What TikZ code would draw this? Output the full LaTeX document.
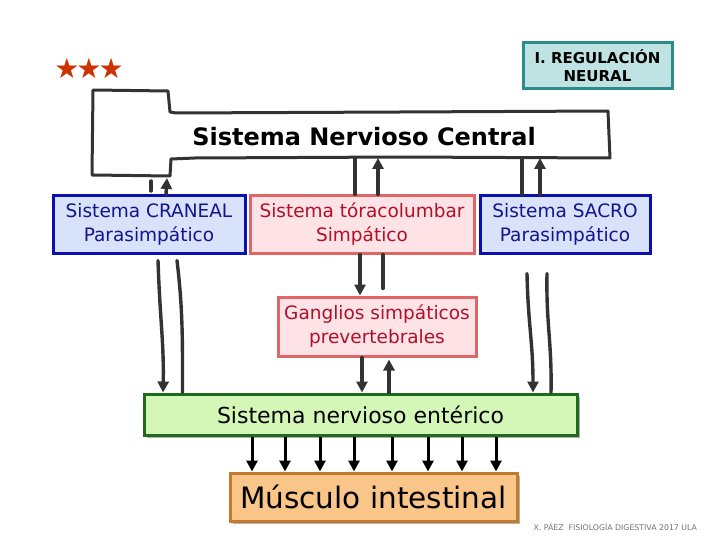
\documentclass[tikz,border=0pt]{standalone}
\usepackage{fontspec}
\setmainfont{DejaVu Sans}
\newfontfamily\starfont{DejaVu Sans}
\usetikzlibrary{arrows.meta,calc}
\definecolor{starred}{HTML}{CC3300}
\definecolor{tealfill}{HTML}{BFE3E3}
\definecolor{tealline}{HTML}{2E8B8B}
\definecolor{bluefill}{HTML}{D8E2FA}
\definecolor{blueline}{HTML}{0A10B0}
\definecolor{bluetext}{HTML}{14148C}
\definecolor{pinkfill}{HTML}{FDE2E6}
\definecolor{pinkline}{HTML}{E06666}
\definecolor{pinktext}{HTML}{B0102A}
\definecolor{greenfill}{HTML}{D4F7B8}
\definecolor{greenline}{HTML}{1E6B1E}
\definecolor{orangefill}{HTML}{F9C589}
\definecolor{orangeline}{HTML}{C47A2C}
\definecolor{pen}{HTML}{333333}
\tikzset{
  boxbase/.style={draw, line width=3pt, inner sep=0pt, align=center},
  bluebox/.style={boxbase, draw=blueline, fill=bluefill, text=bluetext, font=\fontsize{18.5}{24}\selectfont},
  pinkbox/.style={boxbase, draw=pinkline, fill=pinkfill, text=pinktext, font=\fontsize{18.5}{24}\selectfont},
  penline/.style={draw=pen, line width=3.4pt, line cap=round},
  penarrow/.style={penline, -{Triangle[length=11pt,width=11pt]}},
  blackarrow/.style={draw=black, line width=3pt, -{Triangle[length=11pt,width=11pt]}},
}
\begin{document}
\begin{tikzpicture}[x=1pt,y=-1pt]
\useasboundingbox (0,0) rectangle (720,540);
\fill[white] (0,0) rectangle (720,540);

% stars and title
\node[text=starred, font=\starfont\fontsize{28}{28}\selectfont, inner sep=0pt] (stars) at (89,68) {★\kern-3pt★\kern-3pt★};
\node[boxbase, draw=tealline, fill=tealfill, line width=3pt, minimum width=149pt, minimum height=46pt,
      font=\fontsize{15}{18}\selectfont\bfseries] (title) at (597.5,66) {I. REGULACIÓN\\NEURAL};

% CNS outline (hand drawn)
\draw[draw=pen, line width=3pt, line join=round]
  (176,113) -- (170,112) -- (168,91) -- (93,90) -- (92,175) -- (170,176) -- (171,159)
  -- (195,158) -- (400,157) -- (610,158) -- (609,135) -- (608,111) -- (400,112) -- (176,113);
\node[font=\fontsize{24}{24}\selectfont\bfseries] (cns) at (364,137) {Sistema Nervioso Central};
\coordinate (cnsL) at (160,176);
\coordinate (cnsM) at (366,158);
\coordinate (cnsR) at (531,158);

% boxes
\node[bluebox, minimum width=192pt, minimum height=57pt] (cran) at (149,224.5) {Sistema CRANEAL\\Parasimpático};
\node[pinkbox, minimum width=224pt, minimum height=57pt] (tor) at (362,224.5) {Sistema tóracolumbar\\Simpático};
\node[bluebox, minimum width=170pt, minimum height=57pt] (sac) at (565,224.5) {Sistema SACRO\\Parasimpático};
\node[pinkbox, minimum width=198pt, minimum height=59pt] (gang) at (377,326.5) {Ganglios simpáticos\\prevertebrales};

% enteric and muscle with shadows
\fill[black!30] (147,397) rectangle (580,438);
\node[boxbase, draw=greenline, fill=greenfill, minimum width=433pt, minimum height=41pt,
      font=\fontsize{22}{22}\selectfont] (ent) at (360.5,414.5) {Sistema nervioso entérico};
\fill[black!30] (233,476) rectangle (520,524);
\node[boxbase, draw=orangeline, fill=orangefill, minimum width=287pt, minimum height=48pt,
      font=\fontsize{29.5}{29.5}\selectfont] (mus) at (373.5,497) {Músculo intestinal};

% CNS <-> first row
\draw[penline] ([xshift=-9pt,yshift=-5pt]cnsL) -- ([xshift=-9pt,yshift=-15pt]cnsL);
\draw[penarrow] ([xshift=17pt]cran.north) -- ([xshift=7pt,yshift=-2pt]cnsL);
\draw[penline] ([xshift=-11pt]cnsM) -- ([xshift=-7pt]tor.north);
\draw[penarrow] ([xshift=16pt]tor.north) -- ([xshift=12pt]cnsM);
\draw[penline] ([xshift=-9pt]cnsR) -- ([xshift=-43pt]sac.north);
\draw[penarrow] ([xshift=-25pt]sac.north) -- ([xshift=9pt]cnsR);

% craneal -> enteric
\draw[penarrow] ([xshift=9pt,yshift=-6pt]cran.south) .. controls +(2,60) and +(1,-50) .. ([xshift=-197.5pt]ent.north);
\draw[penline] ([xshift=28pt,yshift=-6pt]cran.south) .. controls +(6,50) and +(0,-50) .. ([xshift=-178pt]ent.north);

% toracolumbar -> ganglios
\draw[penarrow] ([xshift=-2pt]tor.south) -- ([xshift=-17pt]gang.north);
\draw[penline] ([xshift=21pt]tor.south) -- ([xshift=6pt,yshift=7pt]gang.north);

% ganglios <-> enteric
\draw[penarrow] ([xshift=-15pt]gang.south) -- ([xshift=1.5pt]ent.north);
\draw[penarrow] ([xshift=28.5pt]ent.north) -- ([xshift=12pt,yshift=-2pt]gang.south);

% sacro -> enteric
\draw[penarrow] ([xshift=-38pt,yshift=-19pt]sac.south) .. controls +(1,50) and +(0,-50) .. ([xshift=172.5pt]ent.north);
\draw[penline] ([xshift=-18pt,yshift=-19pt]sac.south) .. controls +(-1,50) and +(1,-50) .. ([xshift=190.5pt]ent.north);

% enteric -> muscle
\foreach \x in {252,285,320,354,392,428,462,496}{
  \draw[blackarrow] (ent.south -| \x,0) -- (mus.north -| \x,0);
}

% footer
\node[text=black!55, font=\fontsize{7.8}{7.8}\selectfont, anchor=west] (foot) at (530,527) {X. PÁEZ \ FISIOLOGÍA DIGESTIVA 2017 ULA};
\end{tikzpicture}
\end{document}
